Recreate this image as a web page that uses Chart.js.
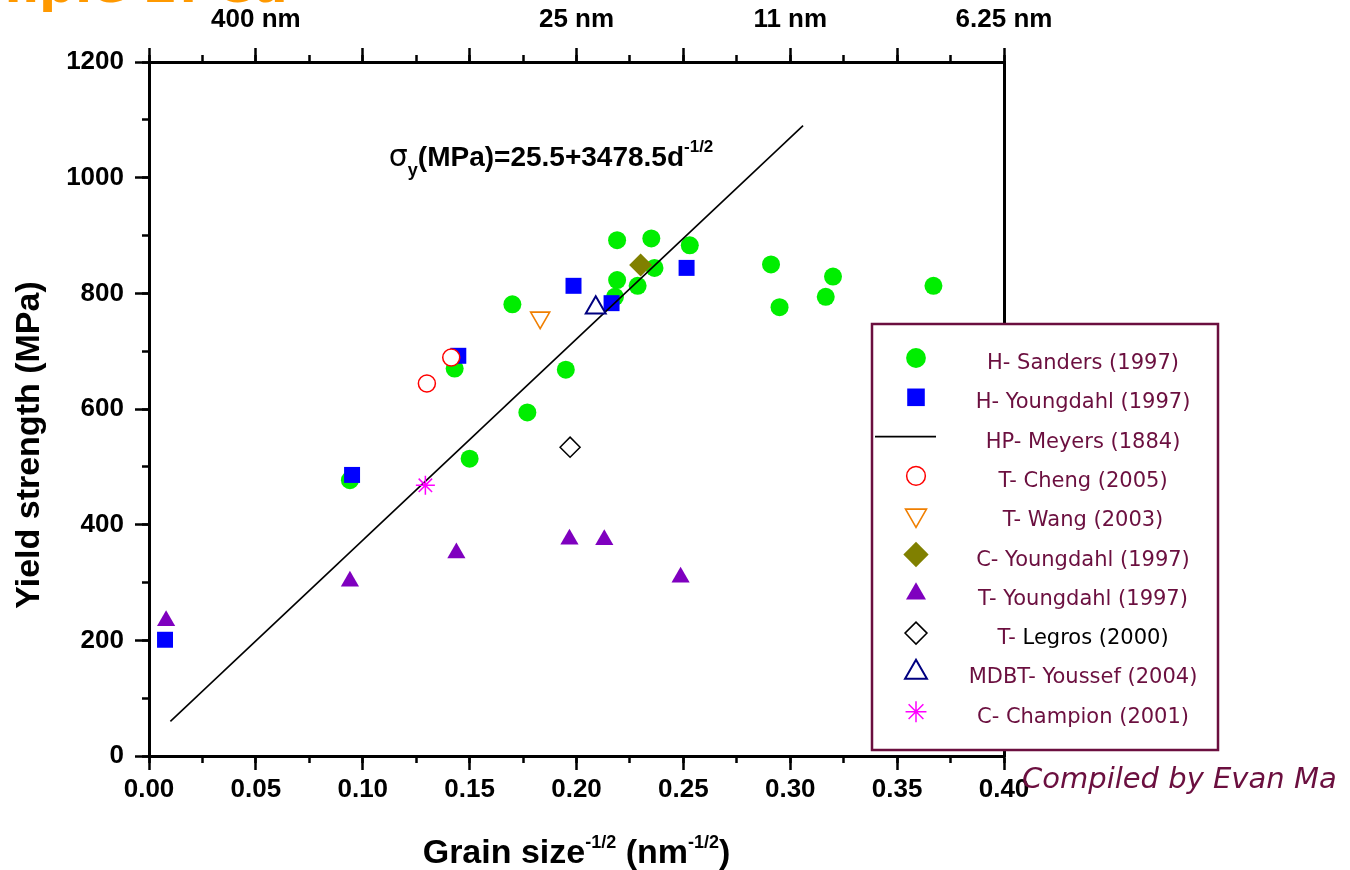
<!DOCTYPE html>
<html>
<head>
<meta charset="utf-8">
<title>Yield strength vs grain size</title>
<script src="https://cdn.jsdelivr.net/npm/chart.js@4.4.1/dist/chart.umd.min.js"></script>
<style>
  html, body { margin: 0; padding: 0; background: #fff; }
  #wrap { width: 1350px; height: 870px; }
</style>
</head>
<body>
<div id="wrap"><canvas id="hpChart" width="1350" height="870"></canvas></div>
<script>
// values: x = d^-1/2 (nm^-1/2), y = yield strength (MPa)
const sandersX = [0.094, 0.143, 0.150, 0.170, 0.177, 0.195, 0.219, 0.219, 0.218, 0.2286, 0.235, 0.2365, 0.253, 0.291, 0.295, 0.3166, 0.320, 0.367];
const sandersY = [477, 670, 514, 781, 594, 668, 892, 823, 794, 813, 895, 844, 883, 850, 776, 794, 829, 813];

const youngdahlHX = [0.0075, 0.095, 0.1447, 0.1986, 0.2164, 0.2515];
const youngdahlHY = [201, 486, 692, 813, 783, 844];

const meyersX = [0.010, 0.306];
const meyersY = [60, 1090];

const chengX = [0.130, 0.1414];
const chengY = [644, 689];

const wangX = [0.183];
const wangY = [758];

const youngdahlCX = [0.230];
const youngdahlCY = [849];

const youngdahlTX = [0.008, 0.094, 0.1438, 0.1967, 0.213, 0.2487];
const youngdahlTY = [234, 302, 351, 375, 374, 309];

const legrosX = [0.197];
const legrosY = [534];

const youssefX = [0.209];
const youssefY = [775];

const championX = [0.1293];
const championY = [468];

// top axis: grain size d at d^-1/2
const topTickValues = [0.05, 0.2, 0.3, 0.4];
const topTickText = ['400 nm', '25 nm', '11 nm', '6.25 nm'];

const pts = (xs, ys) => xs.map((x, i) => ({ x: x, y: ys[i] }));

const MAROON = '#6b0f3f';
const tickFont = { family: "'Liberation Sans', Arial, sans-serif", size: 26, weight: 'bold' };

function marker(style, radius, fill, stroke, bw, rot) {
  return {
    pointStyle: style, pointRadius: radius, pointBackgroundColor: fill,
    pointBorderColor: stroke, pointBorderWidth: bw, pointRotation: rot || 0,
    backgroundColor: fill, borderColor: stroke
  };
}

// legend order; "order" puts the first ones at the bottom of the drawing stack
const datasets = [
  Object.assign({ label: 'H- Sanders (1997)', data: pts(sandersX, sandersY), order: 10 }, marker('circle', 9, '#00ee00', '#00ee00', 0)),
  Object.assign({ label: 'H- Youngdahl (1997)', data: pts(youngdahlHX, youngdahlHY), order: 9 }, marker('rect', 11.3, '#0000ff', '#0000ff', 0)),
  { label: 'HP- Meyers (1884)', data: pts(meyersX, meyersY), order: 8, showLine: true,
    borderColor: '#000', borderWidth: 1.6, pointRadius: 0, fill: false },
  Object.assign({ label: 'T- Cheng (2005)', data: pts(chengX, chengY), order: 7 }, marker('circle', 8.5, '#fff', '#ff0000', 1.5)),
  Object.assign({ label: 'T- Wang (2003)', data: pts(wangX, wangY), order: 6 }, marker('triangle', 11, '#fff', '#f07f00', 1.6, 180)),
  Object.assign({ label: 'C- Youngdahl (1997)', data: pts(youngdahlCX, youngdahlCY), order: 5 }, marker('rectRot', 11.5, '#808000', '#808000', 0)),
  Object.assign({ label: 'T- Youngdahl (1997)', data: pts(youngdahlTX, youngdahlTY), order: 4 }, marker('triangle', 10.5, '#7f00bf', '#7f00bf', 0)),
  Object.assign({ label: 'T- Legros (2000)', data: pts(legrosX, legrosY), order: 3, legendTailColor: '#000' }, marker('rectRot', 10, '#fff', '#000', 1.5)),
  Object.assign({ label: 'MDBT- Youssef (2004)', data: pts(youssefX, youssefY), order: 2 }, marker('triangle', 11.5, '#fff', '#000080', 2)),
  Object.assign({ label: 'C- Champion (2001)', data: pts(championX, championY), order: 1 }, marker('star', 9.5, '#ff00ff', '#ff00ff', 1.5))
];

// text run with sub/superscripts, drawn from x on baseline y
function drawRuns(ctx, runs, x, y, align) {
  let total = 0;
  runs.forEach(r => { ctx.font = r.font; r.w = ctx.measureText(r.t).width; total += r.w; });
  let cx = align === 'center' ? x - total / 2 : x;
  runs.forEach(r => {
    ctx.font = r.font;
    ctx.fillStyle = r.color || '#000';
    ctx.fillText(r.t, cx, y + (r.dy || 0));
    cx += r.w;
  });
}

const extras = {
  id: 'extras',
  afterDraw(chart) {
    const ctx = chart.ctx;
    const area = chart.chartArea;
    const xs = chart.scales.x, ys = chart.scales.y;
    ctx.save();
    ctx.textAlign = 'left';
    ctx.textBaseline = 'alphabetic';

    // cut-off slide title at the very top
    ctx.font = "bold 50px 'DejaVu Sans', sans-serif";
    ctx.fillStyle = '#ff9900';
    ctx.fillText('mple 2: Cu', -13, 2);

    // x axis title
    const B = "bold 34px 'Liberation Sans', Arial, sans-serif";
    const S = "bold 18px 'Liberation Sans', Arial, sans-serif";
    drawRuns(ctx, [
      { t: 'Grain size', font: B }, { t: '-1/2', font: S, dy: -15 },
      { t: ' (nm', font: B }, { t: '-1/2', font: S, dy: -15 }, { t: ')', font: B }
    ], (area.left + area.right) / 2, 863, 'center');

    // y axis title
    ctx.save();
    ctx.translate(30, 445);
    ctx.rotate(-Math.PI / 2);
    ctx.font = B;
    ctx.textAlign = 'center';
    ctx.textBaseline = 'middle';
    ctx.fillStyle = '#000';
    ctx.fillText('Yield strength (MPa)', 0, 0);
    ctx.restore();

    // fit equation
    const ex = xs.getPixelForValue(0.1122), ey = ys.getPixelForValue(1021);
    drawRuns(ctx, [
      { t: 'σ', font: "30px 'DejaVu Sans', sans-serif" },
      { t: 'y', font: "bold 18px 'Liberation Sans', Arial, sans-serif", dy: 10 },
      { t: '(MPa)=25.5+3478.5d', font: "bold 28px 'Liberation Sans', Arial, sans-serif" },
      { t: '-1/2', font: "bold 17px 'Liberation Sans', Arial, sans-serif", dy: -14 }
    ], ex, ey, 'left');

    // credit
    ctx.font = "italic 29px 'DejaVu Sans', sans-serif";
    ctx.fillStyle = MAROON;
    ctx.fillText('Compiled by Evan Ma', 1022, 788);

    // legend box
    const L = 872, T = 324, W = 346, H = 426;
    ctx.fillStyle = '#fff';
    ctx.fillRect(L, T, W, H);
    ctx.strokeStyle = MAROON;
    ctx.lineWidth = 2.5;
    ctx.strokeRect(L, T, W, H);

    const lf = "21px 'DejaVu Sans', sans-serif";
    chart.data.datasets.forEach((ds, i) => {
      const my = T + 34 + i * 39.3;
      const mx = 916;
      if (ds.showLine) {
        ctx.beginPath();
        ctx.moveTo(875, my);
        ctx.lineTo(936, my);
        ctx.strokeStyle = ds.borderColor;
        ctx.lineWidth = ds.borderWidth;
        ctx.stroke();
      } else {
        ctx.fillStyle = ds.pointBackgroundColor;
        ctx.strokeStyle = ds.pointBorderColor;
        ctx.lineWidth = ds.pointBorderWidth;
        Chart.helpers.drawPoint(ctx, {
          pointStyle: ds.pointStyle, radius: ds.pointRadius * 1.1,
          rotation: ds.pointRotation, borderWidth: ds.pointBorderWidth
        }, mx, my);
      }
      let runs;
      if (ds.legendTailColor) {
        const cut = ds.label.indexOf(' ') + 1;
        runs = [{ t: ds.label.slice(0, cut), font: lf, color: MAROON },
                { t: ds.label.slice(cut), font: lf, color: ds.legendTailColor }];
      } else {
        runs = [{ t: ds.label, font: lf, color: MAROON }];
      }
      drawRuns(ctx, runs, 1083, my + 11, 'center');
    });
    ctx.restore();
  }
};

const tickGrid = len => ({ drawOnChartArea: false, tickLength: len, tickWidth: 2.5, tickColor: '#000' });
const noBorder = { display: false };
const axisBorder = { display: true, width: 3, color: '#000' };

new Chart(document.getElementById('hpChart'), {
  type: 'scatter',
  data: { datasets: datasets },
  options: {
    responsive: false,
    animation: false,
    events: [],
    layout: { padding: 0 },
    plugins: { legend: { display: false }, tooltip: { enabled: false } },
    scales: {
      x: {
        type: 'linear', position: 'bottom', min: 0, max: 0.4, weight: 1,
        ticks: { stepSize: 0.05, autoSkip: false, maxRotation: 0, padding: 4, color: '#000', font: tickFont,
                 callback: v => v.toFixed(2) },
        grid: tickGrid(14), border: axisBorder,
        afterFit: s => { s.height = 114; }
      },
      xMinor: {
        type: 'linear', position: 'bottom', min: 0, max: 0.4, weight: 0,
        ticks: { stepSize: 0.025, display: false },
        grid: tickGrid(7), border: noBorder,
        afterFit: s => { s.height = 0; }
      },
      xTop: {
        type: 'linear', position: 'top', min: 0, max: 0.4, weight: 1,
        ticks: { stepSize: 0.05, autoSkip: false, maxRotation: 0, padding: 13, color: '#000', font: tickFont,
                 callback: v => {
                   const i = topTickValues.findIndex(t => Math.abs(t - v) < 1e-6);
                   return i < 0 ? '' : topTickText[i];
                 } },
        grid: tickGrid(14), border: axisBorder,
        afterFit: s => { s.height = 62; }
      },
      xTopMinor: {
        type: 'linear', position: 'top', min: 0, max: 0.4, weight: 0,
        ticks: { stepSize: 0.025, display: false },
        grid: tickGrid(7), border: noBorder,
        afterFit: s => { s.height = 0; }
      },
      y: {
        type: 'linear', position: 'left', min: 0, max: 1200, weight: 1,
        ticks: { stepSize: 200, autoSkip: false, padding: 11, color: '#000', font: tickFont,
                 callback: v => String(v) },
        grid: tickGrid(14), border: axisBorder,
        afterFit: s => { s.width = 149; }
      },
      yMinor: {
        type: 'linear', position: 'left', min: 0, max: 1200, weight: 0,
        ticks: { stepSize: 100, display: false },
        grid: tickGrid(7), border: noBorder,
        afterFit: s => { s.width = 0; }
      },
      yRight: {
        type: 'linear', position: 'right', min: 0, max: 1200,
        ticks: { display: false },
        grid: { display: false }, border: axisBorder,
        afterFit: s => { s.width = 346; }
      }
    }
  },
  plugins: [extras]
});
</script>
</body>
</html>
